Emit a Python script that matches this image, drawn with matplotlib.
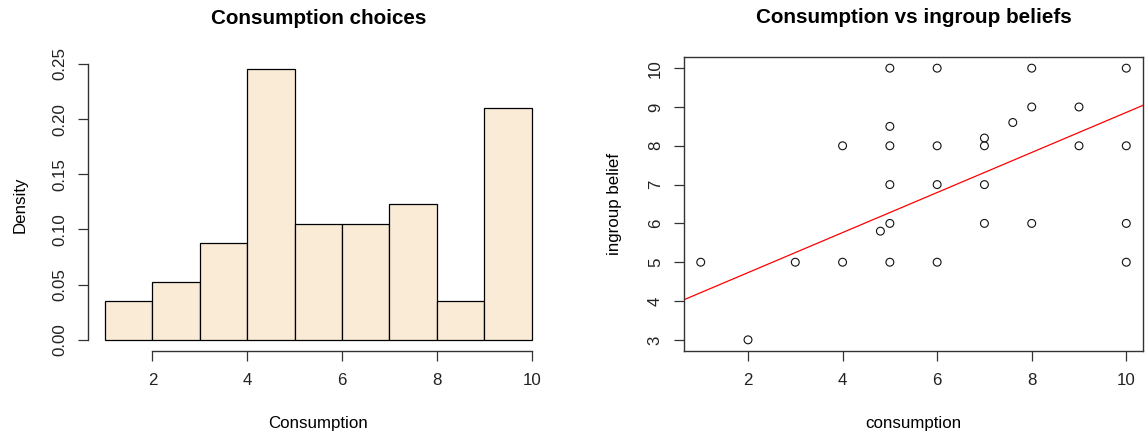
import numpy as np
import matplotlib
matplotlib.use("Agg")
import matplotlib.pyplot as plt

plt.rcParams['font.family'] = ['Liberation Sans', 'DejaVu Sans']

# ---- data ----
consumption = [1, 2,
               3, 3, 3,
               4, 4, 4, 4, 4,
               4.8, 5, 5, 5, 5, 5, 5, 5, 5, 5, 5, 5, 5, 5,
               6, 6, 6, 6, 6, 6,
               7, 7, 7, 7, 7, 7,
               7.6, 8, 8, 8, 8, 8, 8,
               9, 9,
               10, 10, 10, 10, 10, 10, 10, 10, 10, 10, 10, 10]
belief = [5, 3,
          5, 5, 5,
          8, 8, 5, 5, 5,
          5.8, 10, 10, 8.5, 8, 8, 8, 7, 7, 6, 6, 5, 5, 5,
          10, 8, 8, 7, 7, 5,
          8.2, 8, 8, 7, 6, 6,
          8.6, 10, 10, 9, 9, 6, 6,
          9, 8,
          10, 10, 10, 10, 8, 8, 8, 6, 6, 5, 5, 5]
breaks = [1, 2, 3, 4, 5, 6, 7, 8, 9, 10]
fit_intercept = 3.70   # red fitted line
fit_slope = 0.516

hist_xticks = [2, 4, 6, 8, 10]
hist_yticks = [0.00, 0.05, 0.10, 0.15, 0.20, 0.25]
hist_yticklabels = ["0.00", "0.05", "0.10", "0.15", "0.20", "0.25"]
sc_xticks = [2, 4, 6, 8, 10]
sc_yticks = [3, 4, 5, 6, 7, 8, 9, 10]

# R-style right-closed bins (include lowest)
x = np.asarray(consumption, dtype=float)
b = np.asarray(breaks, dtype=float)
idx = np.searchsorted(b, x, side='left') - 1
idx[idx < 0] = 0
counts = np.bincount(idx, minlength=len(b) - 1)[:len(b) - 1]
dens = counts / (counts.sum() * np.diff(b))

# overplotted duplicates look like a single circle
pts = np.unique(np.column_stack([consumption, belief]), axis=0)

W, H = 1145, 436
fig = plt.figure(figsize=(W / 100, H / 100), dpi=100)

FS = 12.2
TFS = 14.9
axc = '#333333'

def px_axes(l, r, t, bt):
    return [l / W, 1 - bt / H, (r - l) / W, (bt - t) / H]

# ---- left: histogram ----
ax1 = fig.add_axes(px_axes(88, 548.7, 58, 350.5))
ax1.hist(b[:-1], bins=b, weights=dens, color='#FAEBD7', edgecolor='black', linewidth=0.9)
xr = b[-1] - b[0]
ax1.set_xlim(b[0] - 0.04 * xr, b[-1] + 0.04 * xr)
ymax = dens.max()
ax1.set_ylim(-0.04 * ymax, ymax * 1.04)
for s in ['top', 'right']:
    ax1.spines[s].set_visible(False)
ax1.spines['bottom'].set_bounds(hist_xticks[0], hist_xticks[-1])
ax1.spines['left'].set_bounds(hist_yticks[0], hist_yticks[-1])
ax1.set_xticks(hist_xticks)
ax1.set_yticks(hist_yticks)
ax1.set_yticklabels(hist_yticklabels, rotation=90, va='center')
ax1.set_title("Consumption choices", fontsize=TFS, fontweight='bold', pad=24.5)
ax1.set_xlabel("Consumption", fontsize=FS)
ax1.set_ylabel("Density", fontsize=FS)
ax1.xaxis.set_label_coords(0.5, (350.5 - 423) / 292.5)
ax1.xaxis.label.set_va('center')
ax1.yaxis.set_label_coords((20 - 88) / 460.7, 0.5)
ax1.yaxis.label.set_va('center')

# ---- right: scatter ----
ax2 = fig.add_axes(px_axes(683.7, 1143.3, 57.3, 350.7))
ax2.scatter(pts[:, 0], pts[:, 1], s=32, facecolors='none', edgecolors='#111111', linewidths=0.8, zorder=3)
ax2.axline((0, fit_intercept), slope=fit_slope, color='red', linewidth=0.9)
cr = max(consumption) - min(consumption)
br = max(belief) - min(belief)
ax2.set_xlim(min(consumption) - 0.04 * cr, max(consumption) + 0.04 * cr)
ax2.set_ylim(min(belief) - 0.04 * br, max(belief) + 0.04 * br)
ax2.set_xticks(sc_xticks)
ax2.set_yticks(sc_yticks)
ax2.set_yticklabels([str(v) for v in sc_yticks], rotation=90, va='center')
ax2.set_title("Consumption vs ingroup beliefs", fontsize=TFS, fontweight='bold', pad=24.5)
ax2.set_xlabel("consumption", fontsize=FS)
ax2.set_ylabel("ingroup belief", fontsize=FS)
ax2.xaxis.set_label_coords(0.5, (350.7 - 423) / 293.4)
ax2.xaxis.label.set_va('center')
ax2.yaxis.set_label_coords((614 - 683.7) / 459.6, 0.5)
ax2.yaxis.label.set_va('center')

for ax in (ax1, ax2):
    for s in ax.spines.values():
        s.set_color(axc)
        s.set_linewidth(1.0)
    ax.tick_params(direction='out', length=7, width=0.9, color=axc, labelsize=FS, labelcolor='#222222')
    ax.tick_params(axis='x', pad=9)
    ax.tick_params(axis='y', pad=8)

fig.savefig("out.png", dpi=100)
